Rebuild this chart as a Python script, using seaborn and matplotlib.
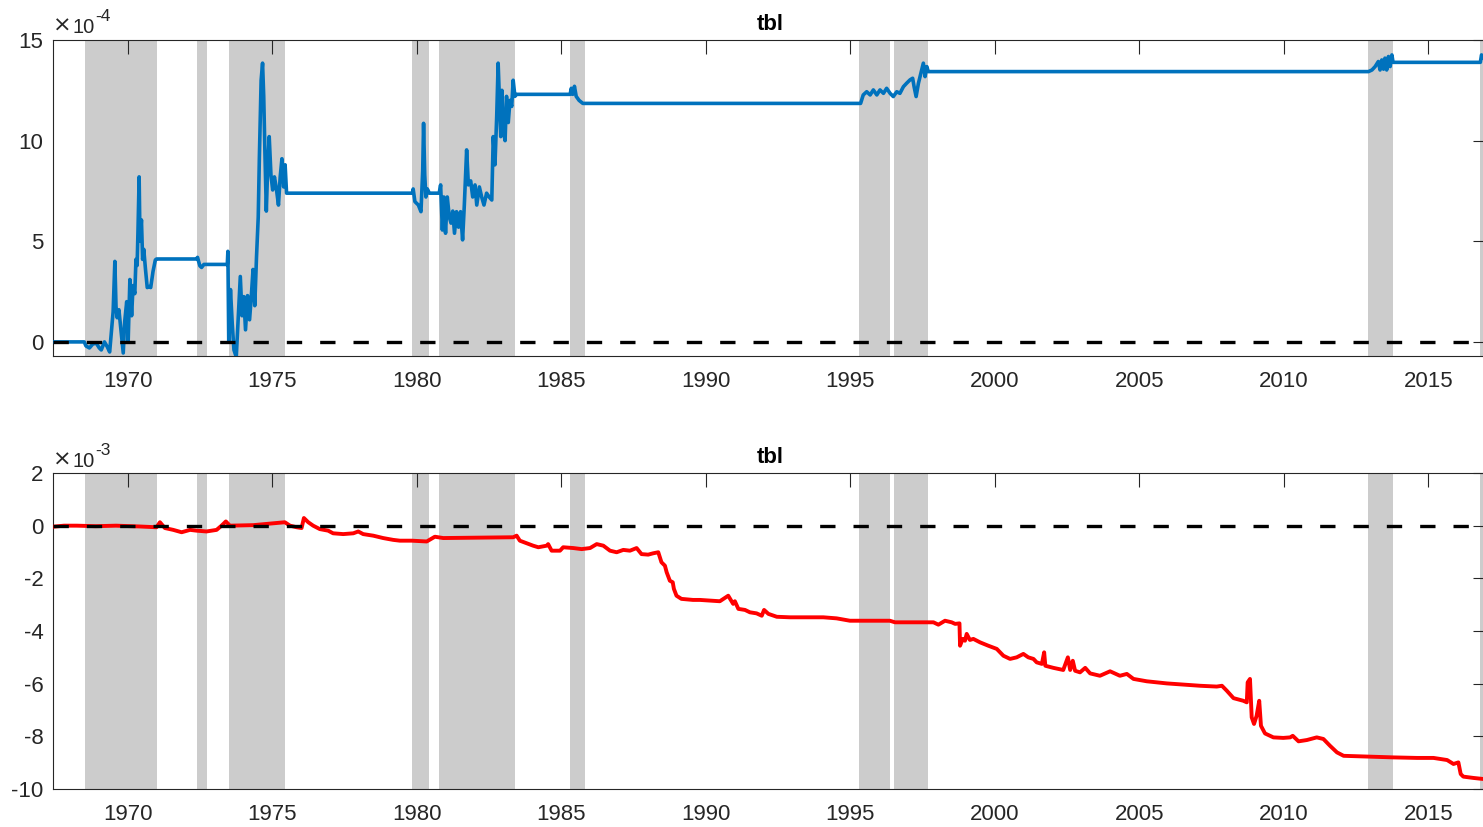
import matplotlib
matplotlib.use("Agg")
import matplotlib.pyplot as plt
import seaborn as sns

# ---------------------------------------------------------------------------
# Shaded periods (start year, end year)
shade_periods = [
    (1968.52, 1971.01), (1972.40, 1972.74), (1973.51, 1975.45),
    (1979.85, 1980.43), (1980.77, 1983.40), (1985.31, 1985.83),
    (1995.31, 1996.38), (1996.52, 1997.70), (2012.93, 2013.77),
    (2016.78, 2017.60),
]

# Upper panel: tbl coefficient path, in units of 1e-4
upper_years = [
    1967.42, 1968.50, 1968.56, 1968.68, 1968.80, 1968.92, 1969.02, 1969.09,
    1969.20, 1969.30, 1969.38, 1969.44, 1969.50, 1969.56, 1969.60, 1969.64,
    1969.70, 1969.77, 1969.79, 1969.85, 1969.90, 1969.97, 1970.02, 1970.08,
    1970.14, 1970.19, 1970.25, 1970.29, 1970.33, 1970.36, 1970.40, 1970.43,
    1970.48, 1970.52, 1970.56, 1970.62, 1970.68, 1970.75, 1970.80, 1970.88,
    1970.96, 1971.00, 1972.38, 1972.42, 1972.50, 1972.56, 1972.64, 1973.45,
    1973.47, 1973.50, 1973.56, 1973.62, 1973.68, 1973.76, 1973.82, 1973.90,
    1973.96, 1974.02, 1974.08, 1974.15, 1974.22, 1974.28, 1974.34, 1974.40,
    1974.46, 1974.52, 1974.56, 1974.62, 1974.67, 1974.71, 1974.75, 1974.80,
    1974.85, 1974.90, 1974.96, 1975.02, 1975.08, 1975.14, 1975.22, 1975.28,
    1975.34, 1975.40, 1975.45, 1975.50, 1979.85, 1979.88, 1979.94, 1980.06,
    1980.15, 1980.21, 1980.24, 1980.28, 1980.32, 1980.37, 1980.44, 1980.78,
    1980.83, 1980.89, 1980.94, 1981.00, 1981.06, 1981.13, 1981.19, 1981.25,
    1981.31, 1981.38, 1981.45, 1981.52, 1981.59, 1981.65, 1981.73, 1981.79,
    1981.87, 1981.94, 1982.02, 1982.08, 1982.17, 1982.25, 1982.33, 1982.42,
    1982.51, 1982.60, 1982.65, 1982.71, 1982.77, 1982.82, 1982.86, 1982.91,
    1982.95, 1983.00, 1983.06, 1983.11, 1983.17, 1983.23, 1983.29, 1983.34,
    1983.40, 1983.46, 1985.31, 1985.35, 1985.40, 1985.46, 1985.52, 1985.62,
    1985.75, 1995.36, 1995.45, 1995.57, 1995.69, 1995.80, 1995.92, 1996.03,
    1996.15, 1996.26, 1996.38, 1996.49, 1996.61, 1996.72, 1996.84, 1996.95,
    1997.07, 1997.16, 1997.21, 1997.28, 1997.36, 1997.47, 1997.53, 1997.59,
    1997.65, 1997.70, 2012.93, 2013.05, 2013.16, 2013.27, 2013.33, 2013.39,
    2013.45, 2013.50, 2013.56, 2013.62, 2013.68, 2013.74, 2013.78, 2016.80,
    2016.84, 2016.90,
]
upper_values = [
    0.00, 0.00, -0.20, -0.30, -0.10, -0.07, -0.30, -0.40,
    0.00, -0.25, -0.50, 0.50, 1.50, 4.00, 1.75, 1.20,
    1.60, 0.60, 0.27, -0.55, 1.00, 2.00, 0.00, 3.10,
    1.30, 2.80, 2.40, 4.10, 3.80, 5.50, 8.20, 5.00,
    6.06, 4.10, 4.60, 3.60, 2.70, 2.75, 2.70, 3.50,
    4.07, 4.12, 4.12, 4.20, 3.78, 3.70, 3.85, 3.85,
    4.50, 0.00, 2.60, 0.93, -0.40, -0.75, 0.93, 3.25,
    1.30, 2.25, 0.60, 2.30, 1.10, 2.25, 3.60, 1.80,
    4.20, 6.20, 9.20, 13.00, 13.85, 12.20, 9.50, 6.50,
    8.80, 10.20, 8.30, 7.55, 8.20, 7.70, 6.80, 8.20,
    9.10, 7.70, 8.80, 7.39, 7.39, 7.60, 6.97, 6.80,
    6.47, 8.50, 10.86, 8.30, 7.20, 7.60, 7.39, 7.39,
    7.80, 5.56, 7.20, 5.40, 7.20, 6.20, 5.90, 6.50,
    5.40, 6.47, 5.70, 6.47, 5.07, 6.80, 9.54, 7.80,
    8.00, 7.20, 7.80, 6.80, 7.70, 7.20, 6.80, 7.39,
    7.20, 7.05, 10.20, 8.80, 11.20, 13.85, 12.20, 10.20,
    12.50, 10.50, 10.00, 12.20, 10.90, 12.00, 11.70, 13.00,
    12.20, 12.30, 12.30, 12.60, 12.30, 12.70, 12.20, 12.00,
    11.85, 11.85, 12.27, 12.43, 12.27, 12.52, 12.27, 12.52,
    12.35, 12.60, 12.35, 12.19, 12.43, 12.35, 12.68, 12.85,
    13.02, 13.10, 12.68, 12.19, 12.85, 13.51, 13.85, 13.18,
    13.68, 13.43, 13.43, 13.51, 13.68, 13.93, 13.51, 14.01,
    13.55, 14.10, 13.51, 14.18, 13.68, 14.26, 13.89, 13.89,
    14.26, 14.10,
]

# Lower panel: tbl coefficient path, in units of 1e-3
lower_years = [
    1967.42, 1967.80, 1968.24, 1968.90, 1969.60, 1970.40, 1971.00, 1971.12,
    1971.29, 1971.58, 1971.87, 1972.16, 1972.39, 1972.73, 1973.08, 1973.25,
    1973.40, 1973.54, 1974.35, 1975.44, 1975.62, 1975.85, 1976.02, 1976.10,
    1976.25, 1976.42, 1976.65, 1976.94, 1977.11, 1977.46, 1977.81, 1977.98,
    1978.15, 1978.50, 1978.84, 1979.19, 1979.42, 1979.83, 1980.35, 1980.63,
    1980.92, 1983.34, 1983.46, 1983.57, 1983.81, 1984.03, 1984.21, 1984.50,
    1984.55, 1984.67, 1984.96, 1985.07, 1985.42, 1985.71, 1986.00, 1986.23,
    1986.46, 1986.69, 1986.92, 1987.15, 1987.38, 1987.61, 1987.78, 1988.01,
    1988.18, 1988.36, 1988.47, 1988.59, 1988.65, 1988.76, 1988.86, 1988.90,
    1988.99, 1989.16, 1989.56, 1989.80, 1990.49, 1990.78, 1990.95, 1991.01,
    1991.13, 1991.36, 1991.53, 1991.76, 1991.94, 1992.02, 1992.17, 1992.46,
    1992.92, 1993.49, 1994.07, 1994.53, 1994.99, 1996.37, 1996.55, 1997.72,
    1997.88, 1998.05, 1998.28, 1998.51, 1998.63, 1998.78, 1998.80, 1998.89,
    1998.97, 1999.03, 1999.14, 1999.26, 1999.49, 1999.78, 2000.07, 2000.30,
    2000.53, 2000.76, 2000.99, 2001.16, 2001.34, 2001.45, 2001.63, 2001.71,
    2001.75, 2002.03, 2002.37, 2002.53, 2002.61, 2002.70, 2002.78, 2002.95,
    2003.13, 2003.30, 2003.64, 2003.99, 2004.33, 2004.57, 2004.80, 2005.26,
    2005.95, 2007.11, 2007.68, 2007.86, 2008.03, 2008.26, 2008.60, 2008.72,
    2008.75, 2008.83, 2008.89, 2008.97, 2009.06, 2009.15, 2009.21, 2009.35,
    2009.64, 2009.98, 2010.22, 2010.31, 2010.51, 2010.80, 2011.14, 2011.37,
    2011.60, 2011.84, 2012.07, 2012.88, 2013.80, 2014.61, 2015.18, 2015.65,
    2015.87, 2016.04, 2016.12, 2016.21, 2016.56, 2016.90,
]
lower_values = [
    -0.04, 0.00, 0.00, -0.02, 0.00, -0.03, -0.06, 0.13,
    -0.09, -0.16, -0.25, -0.16, -0.19, -0.22, -0.16, 0.00,
    0.16, 0.00, 0.02, 0.13, 0.00, -0.06, -0.09, 0.29,
    0.13, 0.00, -0.13, -0.19, -0.29, -0.32, -0.29, -0.22,
    -0.32, -0.38, -0.47, -0.54, -0.57, -0.57, -0.60, -0.42,
    -0.47, -0.44, -0.38, -0.57, -0.67, -0.76, -0.82, -0.76,
    -0.70, -0.95, -0.95, -0.82, -0.85, -0.89, -0.85, -0.70,
    -0.76, -0.95, -1.01, -0.92, -0.95, -0.85, -1.08, -1.10,
    -1.05, -1.01, -1.39, -1.52, -1.77, -2.09, -2.15, -2.40,
    -2.66, -2.78, -2.82, -2.82, -2.87, -2.66, -2.97, -2.87,
    -3.16, -3.20, -3.29, -3.33, -3.42, -3.20, -3.35, -3.46,
    -3.48, -3.48, -3.48, -3.52, -3.61, -3.61, -3.67, -3.67,
    -3.67, -3.76, -3.61, -3.67, -3.73, -3.71, -4.56, -4.30,
    -4.37, -4.11, -4.34, -4.30, -4.43, -4.56, -4.68, -4.94,
    -5.06, -5.00, -4.87, -5.00, -5.06, -5.19, -5.25, -4.81,
    -5.32, -5.40, -5.48, -5.00, -5.48, -5.13, -5.51, -5.57,
    -5.40, -5.61, -5.70, -5.53, -5.70, -5.63, -5.82, -5.91,
    -5.99, -6.08, -6.11, -6.08, -6.27, -6.55, -6.65, -6.71,
    -5.95, -5.82, -7.28, -7.53, -7.22, -6.65, -7.60, -7.89,
    -8.04, -8.06, -8.04, -7.98, -8.19, -8.14, -8.04, -8.10,
    -8.36, -8.61, -8.74, -8.77, -8.80, -8.82, -8.82, -8.90,
    -9.05, -8.99, -9.43, -9.53, -9.58, -9.62,
]

x_ticks = [1970, 1975, 1980, 1985, 1990, 1995, 2000, 2005, 2010, 2015]
upper_yticks = [0, 5, 10, 15]
lower_yticks = [-10, -8, -6, -4, -2, 0, 2]
panel_title = "tbl"
upper_exponent = "-4"
lower_exponent = "-3"

# ---------------------------------------------------------------------------
sns.set_theme(style="white")
plt.rcParams["font.family"] = ["Liberation Sans", "DejaVu Sans"]
plt.rcParams["axes.unicode_minus"] = False

AX_COLOR = "#262626"
FS = 16
W, H = 1483, 827

fig = plt.figure(figsize=(W / 100, H / 100), dpi=100)


def rect(left, top, right, bottom):
    return [left / W, 1 - bottom / H, (right - left) / W, (bottom - top) / H]


ax_top = fig.add_axes(rect(53, 40, 1487, 356))
ax_bot = fig.add_axes(rect(53, 473, 1487, 789))

XLIM = (1967.42, 2017.03)


def style_axes(ax, yticks, ylim):
    for s, e in shade_periods:
        ax.axvspan(s, e, color="#cccccc", lw=0, zorder=0)
    ax.axhline(0, color="black", lw=2.4, ls=(0, (4.6, 5.4)), zorder=4)
    ax.set_xlim(*XLIM)
    ax.set_ylim(*ylim)
    ax.set_xticks(x_ticks)
    ax.set_xticklabels([str(t) for t in x_ticks])
    ax.set_yticks(yticks)
    ax.set_yticklabels([str(t) for t in yticks])
    ax.tick_params(axis="both", direction="in", length=10, width=0.8,
                   colors=AX_COLOR, labelsize=FS, top=True, right=True,
                   labeltop=False, labelright=False)
    ax.tick_params(axis="x", pad=10.5)
    ax.tick_params(axis="y", pad=7)
    for sp in ax.spines.values():
        sp.set_visible(True)
        sp.set_color(AX_COLOR)
        sp.set_linewidth(0.8)
    ax.set_xlabel("")
    ax.set_ylabel("")
    ax.set_title(panel_title, fontsize=FS, fontweight="bold", color="black", pad=7.5)
    ax.grid(False)


sns.lineplot(x=upper_years, y=upper_values, ax=ax_top, color="#0072BD",
             lw=2.6, estimator=None, sort=False, zorder=3)
sns.lineplot(x=lower_years, y=lower_values, ax=ax_bot, color="#FF0000",
             lw=2.8, estimator=None, sort=False, zorder=3)

style_axes(ax_top, upper_yticks, (-0.7, 15))
style_axes(ax_bot, lower_yticks, (-10, 2))

# exponent labels above the y axes
for base_y, sup_y, exp in [(33, 21, upper_exponent), (467, 455, lower_exponent)]:
    fig.text(53 / W, 1 - (base_y - 1) / H, "\u00d7", fontsize=FS,
             family="DejaVu Sans", color=AX_COLOR, ha="left", va="baseline")
    fig.text(72 / W, 1 - base_y / H, "10", fontsize=14.5, color=AX_COLOR,
             ha="left", va="baseline")
    fig.text(95.5 / W, 1 - sup_y / H, exp, fontsize=12.5, color=AX_COLOR,
             ha="left", va="baseline")

fig.savefig("out.png", dpi=100)
